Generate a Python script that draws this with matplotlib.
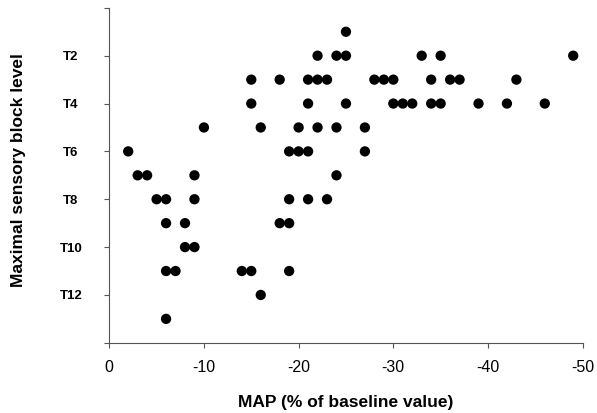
import matplotlib
matplotlib.use("Agg")
import matplotlib.pyplot as plt

plt.rcParams['font.family'] = ['Liberation Sans', 'DejaVu Sans']
plt.rcParams['axes.unicode_minus'] = False

# MAP change (% of baseline) for each patient, grouped by maximal block level (T1..T13)
map_t1 = [-25]
map_t2 = [-22, -24, -25, -33, -35, -49]
map_t3 = [-15, -18, -21, -22, -23, -28, -29, -30, -34, -36, -37, -43]
map_t4 = [-15, -21, -25, -30, -31, -32, -34, -35, -39, -42, -46]
map_t5 = [-10, -16, -20, -22, -24, -27]
map_t6 = [-2, -19, -20, -21, -27]
map_t7 = [-3, -4, -9, -24]
map_t8 = [-5, -6, -9, -19, -21, -23]
map_t9 = [-6, -8, -18, -19]
map_t10 = [-8, -9]
map_t11 = [-6, -7, -14, -15, -19]
map_t12 = [-16]
map_t13 = [-6]

levels = list(range(1, 14))
map_by_level = [map_t1, map_t2, map_t3, map_t4, map_t5, map_t6, map_t7,
                map_t8, map_t9, map_t10, map_t11, map_t12, map_t13]

y_ticks = [0, 2, 4, 6, 8, 10, 12, 14]
y_tick_labels = ["", "T2", "T4", "T6", "T8", "T10", "T12", ""]
x_ticks = [0, -10, -20, -30, -40, -50]

fig = plt.figure(figsize=(5.97, 4.13), dpi=100)
ax = fig.add_axes([0.183, 0.170, 0.793, 0.811])

for lvl, vals in zip(levels, map_by_level):
    ax.scatter(vals, [lvl] * len(vals), s=55, color='black', edgecolors='none',
               zorder=3, clip_on=False)

ax.set_xlim(0, -50)
ax.set_ylim(14, 0)
ax.set_xticks(x_ticks)
ax.set_xticklabels([str(v) for v in x_ticks], fontsize=11.5)
ax.set_yticks(y_ticks)
ax.set_yticklabels(y_tick_labels, fontsize=9.5, fontweight='bold', ha='center')

spine_col = '#555555'
for side in ['top', 'right']:
    ax.spines[side].set_visible(False)
for side in ['left', 'bottom']:
    ax.spines[side].set_color(spine_col)
    ax.spines[side].set_linewidth(0.8)
ax.tick_params(axis='both', direction='out', length=3.6, width=0.8, color=spine_col)
ax.tick_params(axis='y', pad=24)
ax.tick_params(axis='x', pad=9)

ax.set_xlabel("MAP (% of baseline value)", fontsize=12.5, fontweight='bold')
ax.set_ylabel("Maximal sensory block level", fontsize=12.5, fontweight='bold')
ax.xaxis.set_label_coords(0.5, -0.155)
ax.yaxis.set_label_coords(-0.176, 0.515)

fig.savefig("out.png", dpi=100)
